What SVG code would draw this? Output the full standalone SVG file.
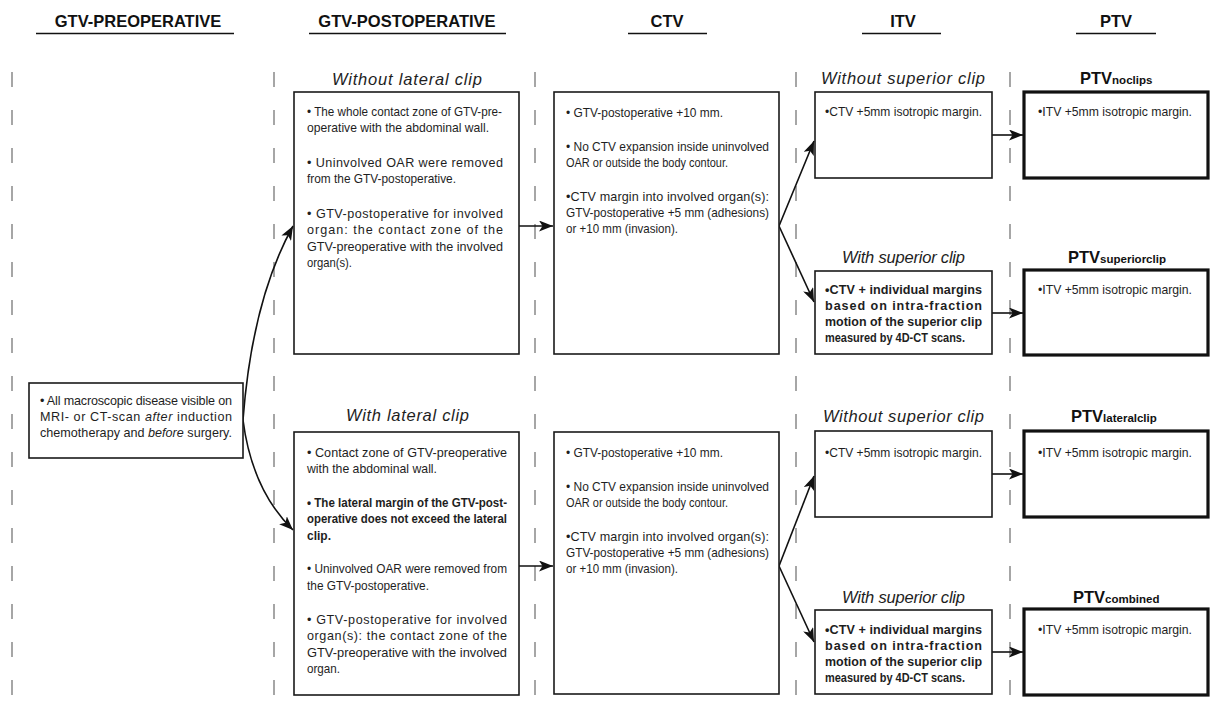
<svg xmlns="http://www.w3.org/2000/svg" width="1218" height="708" viewBox="0 0 1218 708">
<defs>
<style>
.t{font-family:"Liberation Sans",Arial,sans-serif;font-size:12.6px;fill:#1e1e1e}
.b{font-weight:bold}
.h{font-family:"Liberation Sans",Arial,sans-serif;font-size:16.5px;font-weight:bold;fill:#111;text-anchor:middle}
.lab{font-family:"Liberation Sans",Arial,sans-serif;font-size:16.5px;font-style:italic;fill:#1e1e1e}
.pl{font-family:"Liberation Sans",Arial,sans-serif;font-size:16.5px;font-weight:bold;fill:#111}
.sub{font-size:11.5px}
.box{fill:#fff;stroke:#1a1a1a;stroke-width:1.6}
.ptv{fill:#fff;stroke:#111;stroke-width:3.2}
.ul{stroke:#111;stroke-width:1.4}
.dash{stroke:#777;stroke-width:1.3;stroke-dasharray:15 23;fill:none}
.conn{fill:none;stroke:#111;stroke-width:1.6;marker-end:url(#ah)}
</style>
<marker id="ah" markerUnits="userSpaceOnUse" markerWidth="15" markerHeight="11" refX="14" refY="5.5" orient="auto">
<path d="M0,0 L14,5.5 L0,11 L3.5,5.5 z" fill="#111"/>
</marker>
</defs>
<rect width="1218" height="708" fill="#fff"/>

<g id="headers">
<text class="h" x="138" y="27">GTV-PREOPERATIVE</text>
<line class="ul" x1="36" y1="33.5" x2="234" y2="33.5"/>
<text class="h" x="407" y="27">GTV-POSTOPERATIVE</text>
<line class="ul" x1="309" y1="33.5" x2="506" y2="33.5"/>
<text class="h" x="667" y="27">CTV</text>
<line class="ul" x1="628" y1="33.5" x2="707" y2="33.5"/>
<text class="h" x="903" y="27">ITV</text>
<line class="ul" x1="862" y1="33.5" x2="941" y2="33.5"/>
<text class="h" x="1116" y="27">PTV</text>
<line class="ul" x1="1076" y1="33.5" x2="1156" y2="33.5"/>
</g>

<g id="dividers">
<line class="dash" x1="12" y1="72" x2="12" y2="708"/>
<line class="dash" x1="274" y1="72" x2="274" y2="708"/>
<line class="dash" x1="535" y1="72" x2="535" y2="708"/>
<line class="dash" x1="796" y1="72" x2="796" y2="708"/>
<line class="dash" x1="1010" y1="72" x2="1010" y2="708"/>
</g>

<g id="connectors">
<path class="conn" d="M243,420 Q252,300 293,226"/>
<path class="conn" d="M243,420 Q252,490 293,530"/>
<path class="conn" d="M519,226 H553"/>
<path class="conn" d="M519,566 H553"/>
<path class="conn" d="M779,226 L814,141"/>
<path class="conn" d="M779,226 L814,302"/>
<path class="conn" d="M779,566 L814,476"/>
<path class="conn" d="M779,566 L814,642"/>
<path class="conn" d="M992,135 H1023"/>
<path class="conn" d="M992,313 H1023"/>
<path class="conn" d="M992,474 H1023"/>
<path class="conn" d="M992,652 H1023"/>
</g>

<g id="gtv-pre">
<rect class="box" x="29" y="383" width="214" height="75"/>
<text class="t" x="40" y="405" textLength="192">• All macroscopic disease visible on</text>
<text class="t" x="40" y="421" textLength="192">MRI- or CT-scan <tspan font-style="italic">after</tspan> induction</text>
<text class="t" x="40" y="437" textLength="192">chemotherapy and <tspan font-style="italic">before</tspan> surgery.</text>
</g>

<g id="gtv-post-noclip">
<text class="lab" x="332" y="85" textLength="150">Without lateral clip</text>
<rect class="box" x="294" y="92" width="225" height="262"/>
<text class="t" x="307" y="115.5" textLength="195" lengthAdjust="spacingAndGlyphs">• The whole contact zone of GTV-pre-</text>
<text class="t" x="307" y="132" textLength="182" lengthAdjust="spacingAndGlyphs">operative with the abdominal wall.</text>
<text class="t" x="307" y="166.5" textLength="196">• Uninvolved OAR were removed</text>
<text class="t" x="307" y="183" textLength="149" lengthAdjust="spacingAndGlyphs">from the GTV-postoperative.</text>
<text class="t" x="307" y="217.5" textLength="196">• GTV-postoperative for involved</text>
<text class="t" x="307" y="234" textLength="196">organ: the contact zone of the</text>
<text class="t" x="307" y="250.5" textLength="196" lengthAdjust="spacingAndGlyphs">GTV-preoperative with the involved</text>
<text class="t" x="307" y="267" textLength="45" lengthAdjust="spacingAndGlyphs">organ(s).</text>
</g>

<g id="gtv-post-clip">
<text class="lab" x="346" y="421" textLength="123">With lateral clip</text>
<rect class="box" x="294" y="432" width="225" height="263"/>
<text class="t" x="307" y="457" textLength="200">• Contact zone of GTV-preoperative</text>
<text class="t" x="307" y="473" textLength="130" lengthAdjust="spacingAndGlyphs">with the abdominal wall.</text>
<text class="t b" x="307" y="507" textLength="200" lengthAdjust="spacingAndGlyphs">• The lateral margin of the GTV-post-</text>
<text class="t b" x="307" y="523" textLength="200" lengthAdjust="spacingAndGlyphs">operative does not exceed the lateral</text>
<text class="t b" x="307" y="540" textLength="24" lengthAdjust="spacingAndGlyphs">clip.</text>
<text class="t" x="307" y="573" textLength="200" lengthAdjust="spacingAndGlyphs">• Uninvolved OAR were removed from</text>
<text class="t" x="307" y="590" textLength="122" lengthAdjust="spacingAndGlyphs">the GTV-postoperative.</text>
<text class="t" x="307" y="624" textLength="200">• GTV-postoperative for involved</text>
<text class="t" x="307" y="640" textLength="200">organ(s): the contact zone of the</text>
<text class="t" x="307" y="657" textLength="200" lengthAdjust="spacingAndGlyphs">GTV-preoperative with the involved</text>
<text class="t" x="307" y="673" textLength="33" lengthAdjust="spacingAndGlyphs">organ.</text>
</g>

<g id="ctv-upper">
<rect class="box" x="554" y="92" width="225" height="262"/>
<text class="t" x="566" y="117" textLength="157" lengthAdjust="spacingAndGlyphs">• GTV-postoperative +10 mm.</text>
<text class="t" x="566" y="151" textLength="203" lengthAdjust="spacingAndGlyphs">• No CTV expansion inside uninvolved</text>
<text class="t" x="566" y="167" textLength="162" lengthAdjust="spacingAndGlyphs">OAR or outside the body contour.</text>
<text class="t" x="566" y="201" textLength="203">•CTV margin into involved organ(s):</text>
<text class="t" x="566" y="217" textLength="203" lengthAdjust="spacingAndGlyphs">GTV-postoperative +5 mm (adhesions)</text>
<text class="t" x="566" y="233" textLength="112" lengthAdjust="spacingAndGlyphs">or +10 mm (invasion).</text>
</g>

<g id="ctv-lower">
<rect class="box" x="554" y="432" width="225" height="262"/>
<text class="t" x="566" y="457" textLength="157" lengthAdjust="spacingAndGlyphs">• GTV-postoperative +10 mm.</text>
<text class="t" x="566" y="491" textLength="203" lengthAdjust="spacingAndGlyphs">• No CTV expansion inside uninvolved</text>
<text class="t" x="566" y="507" textLength="162" lengthAdjust="spacingAndGlyphs">OAR or outside the body contour.</text>
<text class="t" x="566" y="541" textLength="203">•CTV margin into involved organ(s):</text>
<text class="t" x="566" y="557" textLength="203" lengthAdjust="spacingAndGlyphs">GTV-postoperative +5 mm (adhesions)</text>
<text class="t" x="566" y="573" textLength="112" lengthAdjust="spacingAndGlyphs">or +10 mm (invasion).</text>
</g>

<g id="itv-1">
<text class="lab" x="821" y="84" textLength="164">Without superior clip</text>
<rect class="box" x="815" y="92" width="177" height="86"/>
<text class="t" x="825" y="116" textLength="157" lengthAdjust="spacingAndGlyphs">•CTV +5mm isotropic margin.</text>
</g>
<g id="itv-2">
<text class="lab" x="842" y="263" textLength="123">With superior clip</text>
<rect class="box" x="815" y="271" width="177" height="83"/>
<text class="t b" x="825" y="294" textLength="157">•CTV + individual margins</text>
<text class="t b" x="825" y="310" textLength="157">based on intra-fraction</text>
<text class="t b" x="825" y="326" textLength="157" lengthAdjust="spacingAndGlyphs">motion of the superior clip</text>
<text class="t b" x="825" y="342" textLength="140" lengthAdjust="spacingAndGlyphs">measured by 4D-CT scans.</text>
</g>
<g id="itv-3">
<text class="lab" x="823" y="422" textLength="161">Without superior clip</text>
<rect class="box" x="815" y="431" width="177" height="86"/>
<text class="t" x="825" y="457" textLength="157" lengthAdjust="spacingAndGlyphs">•CTV +5mm isotropic margin.</text>
</g>
<g id="itv-4">
<text class="lab" x="842" y="603" textLength="123">With superior clip</text>
<rect class="box" x="815" y="610" width="177" height="84"/>
<text class="t b" x="825" y="634" textLength="157">•CTV + individual margins</text>
<text class="t b" x="825" y="650" textLength="157">based on intra-fraction</text>
<text class="t b" x="825" y="666" textLength="157" lengthAdjust="spacingAndGlyphs">motion of the superior clip</text>
<text class="t b" x="825" y="682" textLength="140" lengthAdjust="spacingAndGlyphs">measured by 4D-CT scans.</text>
</g>

<g id="ptv-noclips">
<text class="pl" x="1080" y="84">PTV<tspan class="sub">noclips</tspan></text>
<rect class="ptv" x="1024" y="92" width="184" height="86"/>
<text class="t" x="1038" y="116" textLength="154" lengthAdjust="spacingAndGlyphs">•ITV +5mm isotropic margin.</text>
</g>
<g id="ptv-superiorclip">
<text class="pl" x="1068" y="263">PTV<tspan class="sub">superiorclip</tspan></text>
<rect class="ptv" x="1024" y="270" width="184" height="85"/>
<text class="t" x="1038" y="294" textLength="154" lengthAdjust="spacingAndGlyphs">•ITV +5mm isotropic margin.</text>
</g>
<g id="ptv-lateralclip">
<text class="pl" x="1071" y="422">PTV<tspan class="sub">lateralclip</tspan></text>
<rect class="ptv" x="1024" y="431" width="184" height="86"/>
<text class="t" x="1038" y="457" textLength="154" lengthAdjust="spacingAndGlyphs">•ITV +5mm isotropic margin.</text>
</g>
<g id="ptv-combined">
<text class="pl" x="1073" y="603">PTV<tspan class="sub">combined</tspan></text>
<rect class="ptv" x="1024" y="609" width="184" height="86"/>
<text class="t" x="1038" y="634" textLength="154" lengthAdjust="spacingAndGlyphs">•ITV +5mm isotropic margin.</text>
</g>
</svg>
